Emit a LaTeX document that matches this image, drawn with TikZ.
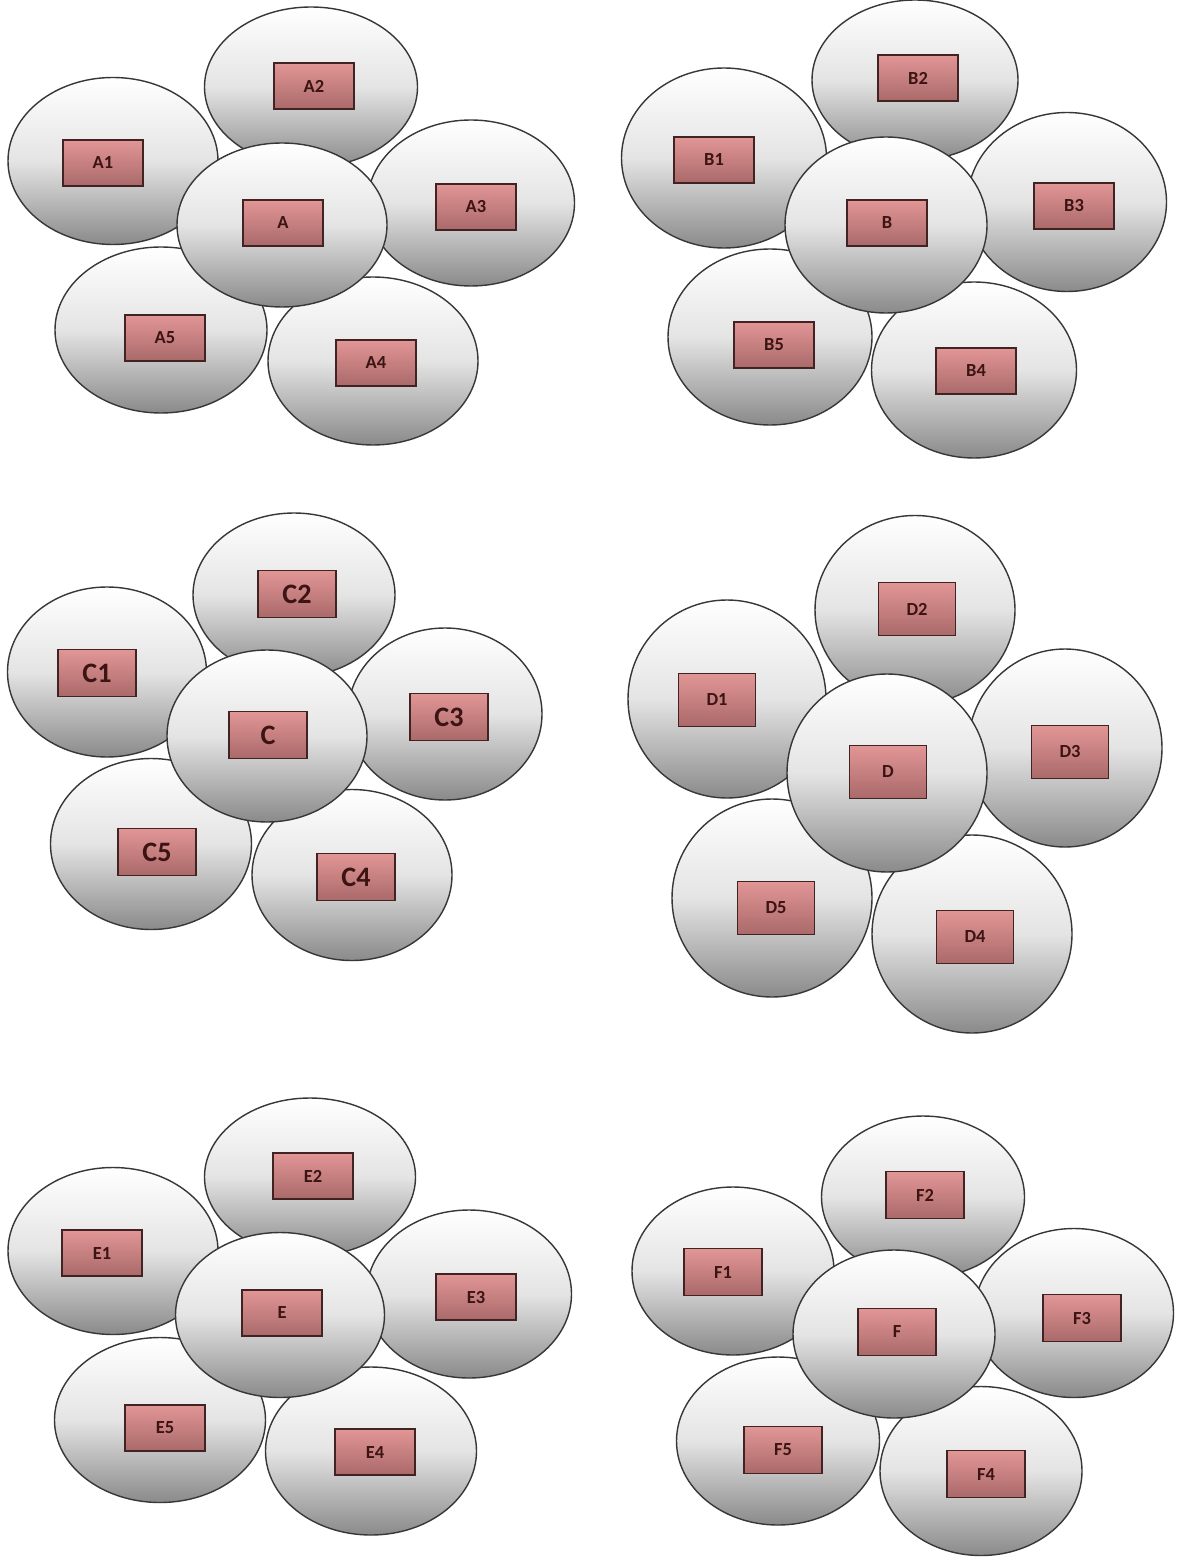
\documentclass[tikz,border=0pt]{standalone}
\usepackage{fontspec}
\setmainfont{Carlito}
\usepackage{xcolor}
\usepackage{tikz}
\usetikzlibrary{shapes.geometric}
\definecolor{orbline}{RGB}{55,55,55}
\definecolor{orbmid}{RGB}{228,228,228}
\definecolor{orbbot}{RGB}{138,138,138}
\definecolor{tagtop}{RGB}{226,150,150}
\definecolor{tagbot}{RGB}{170,105,105}
\definecolor{tagline}{RGB}{65,35,35}
\definecolor{tagtext}{RGB}{60,20,20}
\newcommand{\px}{0.02cm}
\tikzset{
  orb/.style={ellipse,draw=orbline,line width=0.8pt,inner sep=0pt,
    top color=white,bottom color=orbbot,middle color=orbmid},
  tagbox/.style={rectangle,draw=tagline,line width=1pt,inner sep=0pt,
    top color=tagtop,bottom color=tagbot,text=tagtext,
    minimum width=80*\px,minimum height=46*\px,
    font=\bfseries\fontsize{10.5}{10.5}\selectfont}
}
\newcommand{\cellorb}[4]{\node[orb,minimum width=#3*\px,minimum height=#4*\px] (#1) at (#2) {};}
\newcommand{\celltag}[3]{\node[tagbox] (#1) at (#2) {#3};}

\begin{document}
\begin{tikzpicture}[x=0.02cm,y=-0.02cm]
\useasboundingbox[fill=white] (0,0) rectangle (1193,1557);
% cluster A
\cellorb{orbA1}{113,161}{210}{167} \cellorb{orbA2}{311,87}{213}{160} \cellorb{orbA3}{471,203}{207}{166}
\cellorb{orbA5}{161,330}{212}{166} \cellorb{orbA4}{373,361}{210}{168} \cellorb{orbA}{282,225}{210}{164}
\celltag{tagA1}{103,163}{A1} \celltag{tagA2}{314,86}{A2} \celltag{tagA3}{476,207}{A3}
\celltag{tagA5}{165,338}{A5} \celltag{tagA4}{376,363}{A4} \celltag{tagA}{283,223}{A}
% cluster B
\cellorb{orbB1}{724,158}{205}{180} \cellorb{orbB2}{915,80}{206}{160} \cellorb{orbB3}{1067,202}{199}{179}
\cellorb{orbB5}{770,337}{204}{176} \cellorb{orbB4}{974,370}{205}{176} \cellorb{orbB}{886,225}{202}{176}
\celltag{tagB1}{714,160}{B1} \celltag{tagB2}{918,78}{B2} \celltag{tagB3}{1074,206}{B3}
\celltag{tagB5}{774,345}{B5} \celltag{tagB4}{976,371}{B4} \celltag{tagB}{887,223}{B}
% cluster C
\begin{scope}[tagbox/.append style={minimum width=78*\px,minimum height=47*\px,font=\bfseries\fontsize{16}{16}\selectfont}]
\cellorb{orbC1}{107,672}{199}{170} \cellorb{orbC2}{294,595}{202}{164} \cellorb{orbC3}{445,714}{194}{172}
\cellorb{orbC5}{151,844}{201}{171} \cellorb{orbC4}{352,875}{200}{171} \cellorb{orbC}{267,736}{200}{172}
\celltag{tagC1}{97,673}{C1} \celltag{tagC2}{297,594}{C2} \celltag{tagC3}{449,717}{C3}
\celltag{tagC5}{157,852}{C5} \celltag{tagC4}{356,877}{C4} \celltag{tagC}{268,735}{C}
\end{scope}
% cluster D
\begin{scope}[tagbox/.append style={minimum width=77*\px,minimum height=53*\px}]
\cellorb{orbD1}{727,699}{198}{198} \cellorb{orbD2}{915,610}{200}{189} \cellorb{orbD3}{1065,748}{194}{198}
\cellorb{orbD5}{772,898}{200}{198} \cellorb{orbD4}{972,934}{200}{198} \cellorb{orbD}{887,773}{200}{198}
\celltag{tagD1}{717,700}{D1} \celltag{tagD2}{917,609}{D2} \celltag{tagD3}{1070,752}{D3}
\celltag{tagD5}{776,908}{D5} \celltag{tagD4}{975,937}{D4} \celltag{tagD}{888,772}{D}
\end{scope}
% cluster E
\cellorb{orbE1}{113,1251}{210}{167} \cellorb{orbE2}{310,1177}{211}{158} \cellorb{orbE3}{469,1294}{205}{168}
\cellorb{orbE5}{160,1420}{211}{165} \cellorb{orbE4}{371,1451}{211}{168} \cellorb{orbE}{280,1315}{209}{165}
\celltag{tagE1}{102,1253}{E1} \celltag{tagE2}{313,1176}{E2} \celltag{tagE3}{476,1297}{E3}
\celltag{tagE5}{165,1428}{E5} \celltag{tagE4}{375,1452}{E4} \celltag{tagE}{282,1313}{E}
% cluster F
\begin{scope}[tagbox/.append style={minimum width=78*\px,minimum height=47*\px}]
\cellorb{orbF1}{733,1271}{202}{168} \cellorb{orbF2}{923,1197}{203}{162} \cellorb{orbF3}{1074,1313}{199}{169}
\cellorb{orbF5}{778,1441}{203}{168} \cellorb{orbF4}{981,1471}{202}{169} \cellorb{orbF}{894,1334}{202}{168}
\celltag{tagF1}{723,1272}{F1} \celltag{tagF2}{925,1195}{F2} \celltag{tagF3}{1082,1318}{F3}
\celltag{tagF5}{783,1450}{F5} \celltag{tagF4}{986,1474}{F4} \celltag{tagF}{897,1332}{F}
\end{scope}
\end{tikzpicture}
\end{document}
